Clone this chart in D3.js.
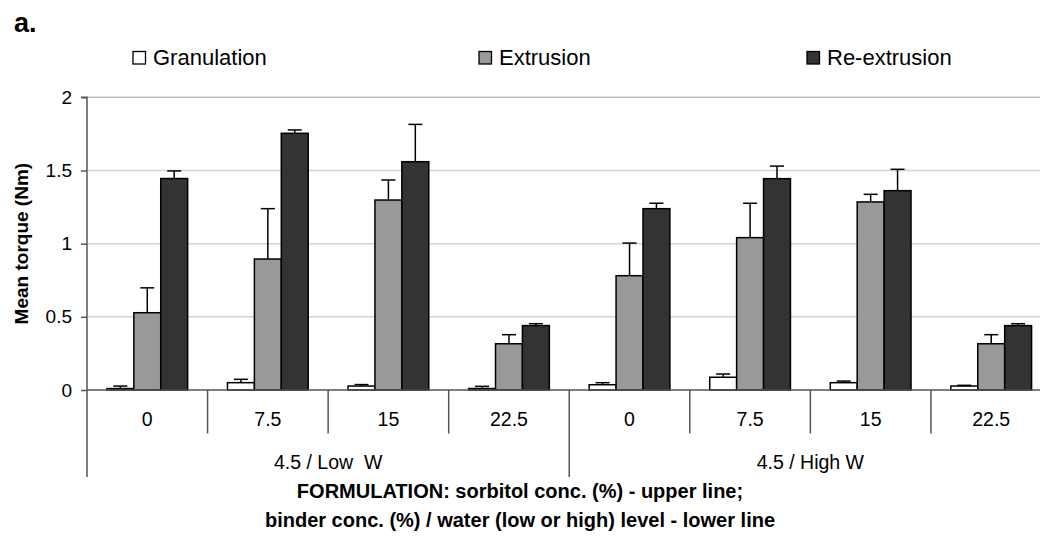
<!DOCTYPE html>
<html>
<head>
<meta charset="utf-8">
<script src="https://cdn.jsdelivr.net/npm/d3@7"></script>
<style>
  html, body { margin: 0; padding: 0; background: #fff; }
  svg { display: block; font-family: "Liberation Sans", Arial, sans-serif; }
</style>
</head>
<body>
<svg id="chart" width="1040" height="553"></svg>
<script>
// ---- data ----
const sorbitol = ["0", "7.5", "15", "22.5", "0", "7.5", "15", "22.5"];
const groups = ["4.5 / Low  W", "4.5 / High W"];
const seriesNames = ["Granulation", "Extrusion", "Re-extrusion"];
const granulation = [0.01, 0.05, 0.027, 0.01, 0.036, 0.087, 0.05, 0.027];
const granulationErr = [0.017, 0.023, 0.01, 0.015, 0.014, 0.022, 0.011, 0.005];
const extrusion = [0.528, 0.895, 1.298, 0.316, 0.781, 1.041, 1.285, 0.316];
const extrusionErr = [0.17, 0.344, 0.137, 0.062, 0.223, 0.235, 0.052, 0.062];
const reextrusion = [1.445, 1.754, 1.56, 0.44, 1.239, 1.444, 1.362, 0.44];
const reextrusionErr = [0.052, 0.023, 0.255, 0.013, 0.037, 0.086, 0.146, 0.013];
const yTicks = [0, 0.5, 1, 1.5, 2];
const colors = ["#ffffff", "#999999", "#333333"];

// ---- layout ----
const svg = d3.select("#chart");
const pL = 87, pR = 1051.5, pT = 97.3, pB = 390;
const catIdx = d3.range(sorbitol.length);
const x = d3.scaleBand().domain(catIdx).range([pL, pR]).paddingInner(0).paddingOuter(0);
const xs = d3.scaleBand().domain(d3.range(3)).range([0, x.bandwidth()]).paddingInner(0).paddingOuter(0.74);
const y = d3.scaleLinear().domain([0, 2]).range([pB, pT]);

const values = [granulation, extrusion, reextrusion];
const errs = [granulationErr, extrusionErr, reextrusionErr];

// title letter
svg.append("text").attr("x", 14).attr("y", 31.5).attr("font-size", 27).attr("font-weight", "bold").text("a.");

// gridlines
svg.append("g").selectAll("line").data(yTicks.filter(d => d > 0)).join("line")
  .attr("x1", pL).attr("x2", pR)
  .attr("y1", d => y(d)).attr("y2", d => y(d))
  .attr("stroke", d => d === 2 ? "#bdbdbd" : "#d4d4d4").attr("stroke-width", 1.5);

// y axis
const yAxis = svg.append("g").attr("transform", `translate(${pL},0)`)
  .call(d3.axisLeft(y).tickValues(yTicks).tickFormat(d3.format("")).tickSize(6).tickPadding(9));
yAxis.select(".domain").attr("stroke", "#555").attr("stroke-width", 1.5).attr("d", `M-6,${pT}H0V${pB}`);
yAxis.selectAll(".tick line").attr("stroke", "#555").attr("stroke-width", 1.5);
yAxis.selectAll(".tick text").attr("font-size", 19).attr("fill", "#000").attr("font-family", "Liberation Sans, Arial, sans-serif");

// bars
const barG = svg.append("g");
values.forEach((vals, s) => {
  barG.append("g").selectAll("rect").data(catIdx).join("rect")
    .attr("x", i => x(i) + xs(s))
    .attr("y", i => y(vals[i]))
    .attr("width", xs.bandwidth())
    .attr("height", i => y(0) - y(vals[i]))
    .attr("fill", colors[s]).attr("stroke", "#000").attr("stroke-width", 1.5);
});

// error bars
values.forEach((vals, s) => {
  const g = barG.append("g").attr("stroke", "#000").attr("stroke-width", 1.5);
  catIdx.forEach(i => {
    const cx = x(i) + xs(s) + xs.bandwidth() / 2;
    const ey = y(vals[i] + errs[s][i]);
    g.append("line").attr("x1", cx).attr("x2", cx).attr("y1", y(vals[i])).attr("y2", ey);
    g.append("line").attr("x1", cx - 7).attr("x2", cx + 7).attr("y1", ey).attr("y2", ey);
  });
});

// x axis baseline
svg.append("line").attr("x1", pL).attr("x2", pR).attr("y1", pB).attr("y2", pB)
  .attr("stroke", "#555").attr("stroke-width", 1.5);

// category separators
const sepG = svg.append("g").attr("stroke", "#555").attr("stroke-width", 1.5);
catIdx.forEach(i => {
  const xx = x(i);
  const isLong = (i % 4 === 0);
  sepG.append("line").attr("x1", xx).attr("x2", xx).attr("y1", pB).attr("y2", isLong ? 477 : 433.5);
});

// category labels
svg.append("g").selectAll("text").data(catIdx).join("text")
  .attr("x", i => x(i) + x.bandwidth() / 2).attr("y", 426)
  .attr("text-anchor", "middle").attr("font-size", 19.5).text(i => sorbitol[i]);

// group labels
svg.append("g").selectAll("text").data(groups).join("text")
  .attr("x", (d, g) => (x(g * 4) + x(g * 4 + 3) + x.bandwidth()) / 2).attr("y", 469)
  .attr("text-anchor", "middle").attr("font-size", 19.5).style("white-space", "pre").text(d => d);

// y axis title
svg.append("text").attr("transform", `translate(28,${(pT + pB) / 2}) rotate(-90)`)
  .attr("text-anchor", "middle").attr("font-size", 19).attr("font-weight", "bold").text("Mean torque (Nm)");

// x axis title
svg.append("text").attr("x", 520).attr("y", 498).attr("text-anchor", "middle")
  .attr("font-size", 20).attr("font-weight", "bold").text("FORMULATION: sorbitol conc. (%) - upper line;");
svg.append("text").attr("x", 520).attr("y", 527).attr("text-anchor", "middle")
  .attr("font-size", 20).attr("font-weight", "bold").text("binder conc. (%) / water (low or high) level - lower line");

// legend
const legendX = [133, 479, 807];
const lg = svg.append("g");
seriesNames.forEach((name, s) => {
  lg.append("rect").attr("x", legendX[s]).attr("y", 51.5).attr("width", 12.5).attr("height", 12.5)
    .attr("fill", colors[s]).attr("stroke", "#000").attr("stroke-width", 1.3);
  lg.append("text").attr("x", legendX[s] + 20).attr("y", 64.5).attr("font-size", 22).text(name);
});
</script>
</body>
</html>
